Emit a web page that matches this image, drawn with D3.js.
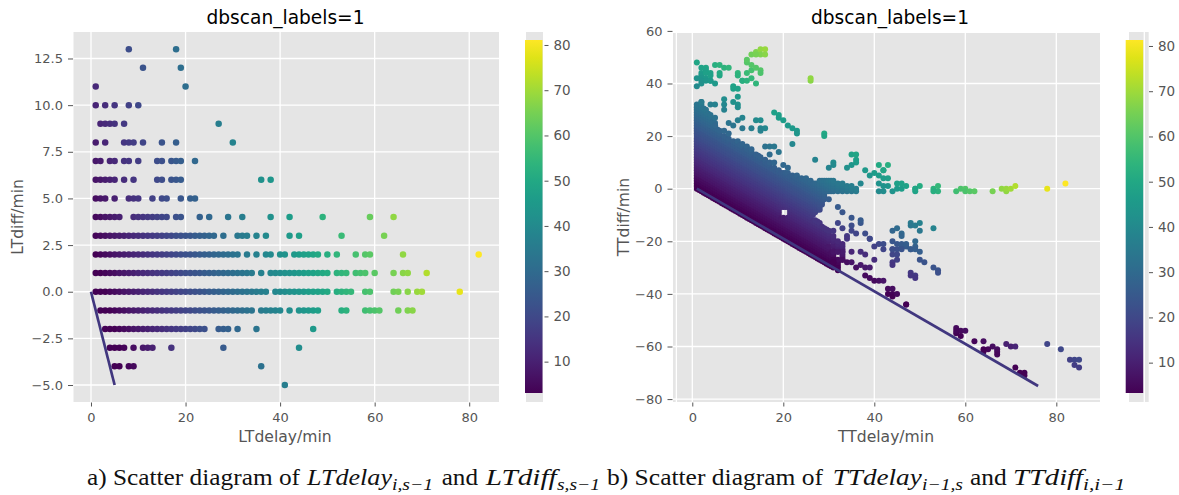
<!DOCTYPE html>
<html><head><meta charset="utf-8">
<script src="https://cdn.jsdelivr.net/npm/d3@7/dist/d3.min.js"></script>
<style>
html,body{margin:0;padding:0;background:#fff}
svg{display:block}
text{font-family:"DejaVu Sans",sans-serif}
.cap{font-family:"Liberation Serif",serif;font-size:23px;fill:#111}
</style></head><body>
<svg id="c" width="1179" height="495"></svg>
<script>
// ---------- chart text ----------
const panelTitle = "dbscan_labels=1";
const xTicks = [0,20,40,60,80];
const ltDiffTicks = [-5,-2.5,0,2.5,5,7.5,10,12.5];
const ttDiffTicks = [-80,-60,-40,-20,0,20,40,60];
const colourTicks = [10,20,30,40,50,60,70,80];

// ---------- left panel: LTdiff level -> LTdelay values read on that row ----------
const ltLevels = [13,12,11,10,9,8,7,6,5,4,3,2,1,0,-1,-2,-3,-4,-5];
const ltDelays = [
 [8,18],
 [11,19],
 [1,20],
 [1,3,5,8,10],
 [2,3,4,5,7,27],
 [1,3,7,8,9,11,15,18,30],
 [1,2,4,5,7,8,10,14,15,17,18,19,22],
 [1,2,3,4,5,7,9,14,15,17,18,19,36,38],
 [1,2,3,5,8,9,10,13,15,16,19,21,22],
 [1,2,3,4,5,6,9,10,11,12,13,14,15,16,18,19,23,25,29,32,38,42,49,59,64],
 [1,2,3,4,5,6,7,8,9,10,11,12,13,14,15,16,17,18,19,20,21,22,23,24,25,26,28,31,32,33,35,37,42,44,53,62],
 [1,2,3,4,5,6,7,8,9,10,11,12,13,14,15,16,17,18,19,20,21,22,23,24,25,26,27,28,29,30,31,33,35,37,38,40,41,43,44,45,46,47,48,50,52,56,58,59,66,82],
 [1,2,3,4,5,6,7,8,9,10,11,12,13,14,15,16,17,18,19,20,21,22,23,24,25,26,27,28,29,30,31,32,33,34,36,38,39,40,41,42,43,44,45,46,47,48,49,50,52,53,54,56,57,58,60,64,66,67,71],
 [1,2,3,4,5,6,7,8,9,10,11,12,13,14,15,16,17,18,19,20,21,22,23,24,25,26,27,28,29,30,31,32,33,34,35,36,37,39,40,41,42,43,44,45,46,47,48,49,50,52,53,54,55,58,59,64,65,67,69,70,78],
 [2,3,4,5,6,7,8,9,10,11,12,13,14,15,16,17,18,19,20,21,22,23,24,25,26,27,28,29,30,31,32,33,34,36,37,38,39,40,42,44,45,46,47,48,53,54,58,59,60,61,65,67,68],
 [3,4,5,6,7,8,9,10,11,12,13,14,15,16,17,18,19,20,21,22,23,24,27,28,29,31,35,47],
 [4,5,6,7,9,11,12,13,17,28,44],
 [5,6,8,9,36],
 [41]
];

// ---------- right panel: solid body, one contiguous run of TTdiff per TTdelay column ----------
const ttRunDelay = [1,1.5,2,2.5,3,3.5,4,4.5,5,5.5,6,6.5,7,7.5,8,8.5,9,9.5,10,10.5,11,11.5,12,12.5,13,13.5,14,14.5,15,15.5,16,16.5,17,17.5,18,18.5,19,
 19.5,19.5,20,20,20.5,20.5,21,21,21.5,22,22.5,23,23.5,24,24.5,25,25.5,26,
 26.5,26.5,27,27,27.5,27.5,28,28,28.5,28.5,29,29,29.5,29.5,30,30,30,30.5,30.5,31,31,31,32,32,32,33,33,34,35,36];
const ttRunLow = [0,-0.5,-1,-1.5,-2,-2.5,-3,-3.5,-4,-4.5,-5,-5.5,-6,-6.5,-7,-7.5,-8,-8.5,-9,-9.5,-10,-10.5,-11,-11.5,-12,-12.5,-13,-13.5,-14,-14.5,-15,-15.5,-16,-16.5,-17,-17.5,-18,
 -18.5,-7,-19,-7,-19.5,-7,-20,-7,-20.5,-21,-21.5,-22,-22.5,-23,-23.5,-24,-24.5,-25,
 -25.5,-10,-26,-9,-26.5,-8,-27,-8,-27.5,-6,-28,-4,-28.5,-1,-29,-20,-1,-29.5,-1,-30,-22,-1,-31,-24,-1,-27,-1,-1,-1,-1];
const ttRunHigh = [32,32,33,31,30,29,28,26,25,23,22,19,20,20,19,17,18,18,18,17,17,15,16,15,15,12,13,13,12,10,11,10,10,8,8,7,7,
 -11,6,-11,6,-11,6,-11,6,5,5,5,5,4,4,4,4,3,3,
 -12,2,-12,2,-12,2,-13,3,-14,3,-15,3,-15,3,-22,-16,3,-24,3,-25,-18,3,-27,-20,2,-22,2,1,1,0];

// ---------- right panel: separate points ----------
const ttDelay = [1,2,3,3,2,2,3,2,3,1,2,3,4,1,2,5,6,7,8,6,6,4,4,5,4,10,10,11,9,9,10,10,9,10,10,11,12,13,14,12,13,14,15,15,12,12,13,13,14,15,16,15,16,14,26,26,
 2,4,5,7,7,7,5,5,8,9,10,11,14,15,15,16,15,13,11,7,8,18,19,19,20,21,22,23,23,29,29,22,16,17,18,19,17,27,20,21,18,35,36,36,36,35,34,31,31,30,38,41,43,40,39,42,43,37,
 41,43,42,44,42,41,42,41,42,45,45,46,47,46,49,49,50,49,53,54,54,53,58,59,60,60,61,62,66,68,69,69,70,71,78,82,
 30,32,33,35,36,38,39,39,41,42,42,44,45,46,47,49,50,31,31,33,31,35,32,31,34,33,31,35,36,38,39,38,39,40,41,42,37,37,34,34,33,32,31,33,35,40,37,35,38,40,37,
 43,44,43,44,44,45,47,47,
 44,45,46,46,48,50,48,49,50,53,49,44,45,46,47,48,46,48,49,44,44,45,45,44,44,50,51,53,54,54,48,48,49,49,
 58,59,60,58,59,58,62,64,69,70,71,66,65,64,67,64,67,67,71,72,73,73,78,81,83,84,85,84,85];
const ttDiff = [48,46,46,45,44,43,44,42,42,42,41,41,41,39,40,47,47,46,46,43,44,44,43,40,41,44,43,41,38,39,38,35,33,32,31,41,41,42,40,44,45,46,45,44,48,49,47,51,52,53,53,51,51,51,41,42,
 33,32,32,34,32,30,27,24,25,24,26,27,26,26,23,23,22,23,23,22,21,29,28,27,26,24,23,22,21,21,20,17,16,16,16,14,13,11,9,8,10,13,13,11,10,9,8,10,9,8,7,9,9,6,5,7,4,2,
 2,1,1,-1,-1,-1,4,5,7,0,2,2,1,0,0,-1,1,0,0,1,-1,-1,-1,0,0,-1,-1,-1,-1,0,-1,0,0,1,0,2,
 -4,-7,-9,-14,-17,-17,-19,-19,-21,-21,-23,-23,-23,-22,-22,-22,-24,-24,-28,-24,-24,-24,-24,-27,-28,-27,-28,-28,-30,-30,-30,-33,-34,-35,-35,-35,-13,-12,-18,-19,-15,-13,-16,-21,-11,-22,-24,-16,-25,-27,-29,
 -38,-38,-40,-40,-41,-40,-44,-44,
 -16,-15,-17,-18,-13,-13,-14,-14,-16,-15,-20,-20,-21,-21,-21,-23,-23,-23,-23,-25,-23,-25,-27,-28,-29,-27,-28,-30,-31,-32,-32,-33,-33,-34,
 -53,-54,-54,-55,-56,-54,-58,-58,-59,-60,-60,-60,-61,-61,-61,-62,-62,-63,-68,-70,-70,-71,-59,-61,-65,-65,-65,-67,-68];

// ---------- lower-limit reference lines (end points) ----------
const ltLimitDelay = [0,5], ltLimitDiff = [0,-5];
const ttLimitDelay = [1,76], ttLimitDiff = [0,-75];

// ---------- drawing ----------
const svg = d3.select("#c");
const colour = d3.scaleSequential(d3.interpolateViridis).domain([3,81]);
// The colour encodes delay + diff, as the colour bar shows
const colourOf = (x,y) => colour(Math.max(3,Math.min(81,x+y)));

const ltPts = [];
ltLevels.forEach((lv,i)=>ltDelays[i].forEach(x=>ltPts.push([x,lv])));
const ttPts = [];
ttRunDelay.forEach((x,i)=>{ for(let y=ttRunLow[i]; y<=ttRunHigh[i]; y++) ttPts.push([x,y]); });
ttDelay.forEach((x,i)=>ttPts.push([x,ttDiff[i]]));

function panel(o){
  const x = d3.scaleLinear().domain(o.xDomain).range([o.left,o.right]);
  const y = d3.scaleLinear().domain(o.yDomain).range([o.bottom,o.top]);
  const g = svg.append("g");
  g.append("rect").attr("x",o.left).attr("y",o.top).attr("width",o.right-o.left).attr("height",o.bottom-o.top).attr("fill","#e5e5e5");
  const grid = g.append("g").attr("stroke","#fff").attr("stroke-width",1.3);
  xTicks.concat(o.extraX||[]).forEach(t=>grid.append("line").attr("x1",x(t)).attr("x2",x(t)).attr("y1",o.top).attr("y2",o.bottom));
  o.yTicks.filter(t=>y(t)>=o.top).forEach(t=>grid.append("line").attr("x1",o.left).attr("x2",o.right).attr("y1",y(t)).attr("y2",y(t)));
  g.append("g").selectAll("circle").data(o.pts).join("circle")
    .attr("cx",d=>x(d[0])).attr("cy",d=>y(d[1])).attr("r",o.r)
    .attr("fill",d=>colourOf(d[0],d[1]));
  g.append("path").datum(d3.zip(o.lineX,o.lineY))
    .attr("d",d3.line().x(d=>x(d[0])).y(d=>y(d[1])))
    .attr("fill","none").attr("stroke","#41377f").attr("stroke-width",2.7);
  const ax = g.append("g").attr("transform",`translate(0,${o.bottom+0.5})`).call(d3.axisBottom(x).tickValues(xTicks).tickSize(4).tickPadding(6).tickSizeOuter(0));
  const ay = g.append("g").attr("transform",`translate(${o.left-0.5},0)`).call(d3.axisLeft(y).tickValues(o.yTicks).tickFormat(o.yFormat).tickSize(5).tickPadding(5).tickSizeOuter(0));
  [ax,ay].forEach(a=>{
    a.select(".domain").remove();
    a.selectAll("line").attr("stroke","#555").attr("stroke-width",1);
    a.selectAll("text").attr("fill","#555").style("font-size","13px").style("font-family",'"DejaVu Sans",sans-serif');
  });
  g.append("text").attr("x",o.titleX).attr("y",24).attr("text-anchor","middle").attr("fill","#000").style("font-size","18.6px").text(panelTitle);
  g.append("text").attr("x",o.xLabelX).attr("y",441.5).attr("text-anchor","middle").attr("fill","#555").style("font-size","15.6px").text(o.xLabel);
  g.append("text").attr("transform",`translate(${o.yLabelX},217) rotate(-90)`).attr("text-anchor","middle").attr("fill","#555").style("font-size","15.6px").text(o.yLabel);
  // colour bar
  const cy = d3.scaleLinear().domain([3.07,81.1]).range([393,40]);
  const cb = o.cbar;
  g.append("rect").attr("x",cb.bgX).attr("y",32).attr("width",cb.bgW).attr("height",370).attr("fill","#e5e5e5");
  g.append("line").attr("x1",cb.whiteX).attr("x2",cb.whiteX).attr("y1",32).attr("y2",402).attr("stroke","#fff").attr("stroke-width",1.3);
  const stops = d3.range(0,1.001,0.05);
  const id = "grad"+o.left;
  const lg = svg.append("defs").append("linearGradient").attr("id",id).attr("x1",0).attr("x2",0).attr("y1",1).attr("y2",0);
  stops.forEach(s=>lg.append("stop").attr("offset",s).attr("stop-color",d3.interpolateViridis(s)));
  g.append("rect").attr("x",cb.barX).attr("y",40).attr("width",17.5).attr("height",353).attr("fill",`url(#${id})`);
  const ac = g.append("g").attr("transform",`translate(${cb.axisX},${cb.dy})`).call(d3.axisRight(cy).tickValues(colourTicks).tickSize(4).tickPadding(5).tickSizeOuter(0));
  ac.select(".domain").remove();
  ac.selectAll("line").attr("stroke","#555");
  ac.selectAll("text").attr("fill","#555").style("font-size","13.5px").style("font-family",'"DejaVu Sans",sans-serif');
}

panel({left:73.5,right:499,top:32,bottom:402,xDomain:[-3.7,86.3],yDomain:[-5.91,13.92],
  yTicks:ltDiffTicks,yFormat:d3.format(".1f"),pts:ltPts,r:3.25,lineX:ltLimitDelay,lineY:ltLimitDiff,
  titleX:285.5,xLabel:"LTdelay/min",xLabelX:285,yLabel:"LTdiff/min",yLabelX:23,
  cbar:{bgX:526,bgW:17,whiteX:544.3,barX:525,axisX:544.5,dy:0}});
panel({left:673,right:1100,top:33,bottom:402,xDomain:[-4.24,89.6],yDomain:[-81.1,59.2],
  yTicks:ttDiffTicks,yFormat:d3.format("d"),pts:ttPts,r:3,lineX:ttLimitDelay,lineY:ttLimitDiff,extraX:[-3.5],
  titleX:890,xLabel:"TTdelay/min",xLabelX:886,yLabel:"TTdiff/min",yLabelX:629,
  cbar:{bgX:1129,bgW:19.7,whiteX:1144.3,barX:1125.7,axisX:1149,dy:1}});

// caption: each piece is fitted to the width it has in the reference
function capPiece(str,x,w,kind){
  const t = svg.append("text").attr("class","cap").attr("x",x).attr("y",kind==="sub"?489.5:485)
    .attr("textLength",w).attr("lengthAdjust","spacingAndGlyphs").text(str);
  if(kind!=="plain") t.style("font-style","italic");
  if(kind==="sub") t.style("font-size","16px");
}
capPiece("a) Scatter diagram of",87,213,"plain");
capPiece("LTdelay",307,85,"math");
capPiece("i,s−1",392,41,"sub");
capPiece("and",441.7,36.3,"plain");
capPiece("LTdiff",485.7,71,"math");
capPiece("s,s−1",557,43,"sub");
capPiece("b) Scatter diagram of",607,216,"plain");
capPiece("TTdelay",832.7,89,"math");
capPiece("i−1,s",922,41,"sub");
capPiece("and",970,36.7,"plain");
capPiece("TTdiff",1013,70,"math");
capPiece("i,i−1",1083,42,"sub");
</script>
</body></html>
